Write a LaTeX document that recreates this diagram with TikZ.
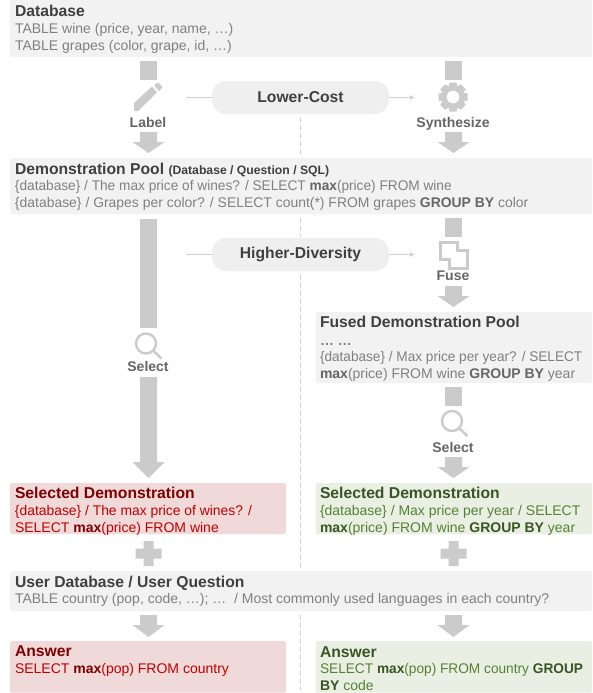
\documentclass[tikz,border=0pt]{standalone}
\usetikzlibrary{arrows.meta}
\usepackage{graphicx}
\usepackage{fontspec}
\setmainfont{Liberation Sans}
\definecolor{arrowgray}{HTML}{CBCBCB}
\definecolor{boxgray}{HTML}{F2F2F2}
\definecolor{pillgray}{HTML}{EFEFEF}
\definecolor{linegray}{HTML}{D0D0D0}
\definecolor{bodygray}{HTML}{808080}
\definecolor{headgray}{HTML}{404040}
\definecolor{labelgray}{HTML}{666666}
\definecolor{redbox}{HTML}{F0D9D9}
\definecolor{redhead}{HTML}{7F0000}
\definecolor{redbody}{HTML}{C00000}
\definecolor{greenbox}{HTML}{E9EFE3}
\definecolor{greenhead}{HTML}{375623}
\definecolor{greenbody}{HTML}{548235}
\newcommand{\fitw}[2]{\resizebox{#1pt}{\height}{#2}}
\newcommand{\blockarrow}[4]{% x, top, neck, tip
  \fill[arrowgray] (#1-8.5,#2) -- (#1+8.5,#2) -- (#1+8.5,#3) -- (#1+16,#3) -- (#1,#4) -- (#1-16,#3) -- (#1-8.5,#3) -- cycle;}
\newcommand{\shaftbar}[3]{\fill[arrowgray] (#1-8.5,#2) rectangle (#1+8.5,#3);}
\newcommand{\plusmark}[2]{\fill[arrowgray] (#1-5,#2-12.5) -- (#1+5,#2-12.5) -- (#1+5,#2-5) -- (#1+13,#2-5) -- (#1+13,#2+5) -- (#1+5,#2+5) -- (#1+5,#2+12.5) -- (#1-5,#2+12.5) -- (#1-5,#2+5) -- (#1-13,#2+5) -- (#1-13,#2-5) -- (#1-5,#2-5) -- cycle;}
\newcommand{\lensmark}[2]{\draw[arrowgray,line width=2.4pt] (#1,#2) circle (10); \draw[arrowgray,line width=2.4pt] (#1+7,#2+7) -- (#1+15.5,#2+15);}
\tikzset{
  x=1pt,y=-1pt,
  panel/.style={rounded corners=1.5pt,fill=#1},
  txt/.style={anchor=base west,inner sep=0pt,outer sep=0pt,font=\fontsize{14}{16}\selectfont,text=#1},
  ttl/.style={anchor=base west,inner sep=0pt,outer sep=0pt,font=\fontsize{15.7}{18}\selectfont\bfseries,text=#1},
  lab/.style={anchor=base,inner sep=0pt,font=\fontsize{14}{16}\selectfont\bfseries,text=labelgray},
  pill/.style={rounded corners=14pt,fill=pillgray,minimum width=177pt,minimum height=33pt,inner sep=0pt,font=\fontsize{15.7}{18}\selectfont\bfseries,text=headgray},
  thin line/.style={linegray,line width=0.8pt},
  divider/.style={linegray,line width=0.8pt,dash pattern=on 5pt off 3pt},
}
\begin{document}
\begin{tikzpicture}
\useasboundingbox (0,0) rectangle (592,693);
\fill[white] (0,0) rectangle (592,693);
% divider
\coordinate (d1) at (300.7,117); \coordinate (d2) at (300.7,157);
\coordinate (d3) at (300.7,218); \coordinate (d4) at (300.7,237);
\coordinate (d5) at (300.7,275); \coordinate (d6) at (300.7,570);
\coordinate (d7) at (300.7,615); \coordinate (d8) at (300.7,690);
\draw[divider] (d1)--(d2); \draw[divider] (d3)--(d4); \draw[divider] (d5)--(d6); \draw[divider] (d7)--(d8);
% panels
\fill[panel=boxgray] (10,0) rectangle (592,57);
\fill[panel=boxgray] (10,158) rectangle (592,214);
\fill[panel=boxgray] (315.5,312) rectangle (592,383);
\fill[panel=redbox] (10,483) rectangle (286,534);
\fill[panel=greenbox] (315.5,483) rectangle (592,534);
\fill[panel=boxgray] (10,571) rectangle (592,611);
\fill[panel=redbox] (10,641) rectangle (286,692.5);
\fill[panel=greenbox] (315.5,641) rectangle (592,692.5);
% texts
\node[ttl=headgray] (t1) at (15,16.5) {Database};
\node[txt=bodygray] (t2) at (15,34) {TABLE wine (price, year, name, …)};
\node[txt=bodygray] (t3) at (15,51) {TABLE grapes (color, grape, id, …)};
\node[ttl=headgray] (t4) at (15,174.5) {Demonstration Pool {\fontsize{12.2}{14}\selectfont (Database / Question / SQL)}};
\node[txt=bodygray] (t5) at (15,190) {\fitw{436.7}{\{database\} / The max price of wines? / SELECT \textbf{\color{labelgray}max}(price) FROM wine}};
\node[txt=bodygray] (t6) at (15,207) {\fitw{513.3}{\{database\} / Grapes per color? / SELECT count(*) FROM grapes \textbf{\color{labelgray}GROUP BY} color}};
\node[ttl=headgray] (t7) at (320,327.5) {Fused Demonstration Pool};
\node[txt=bodygray,font=\fontsize{14}{16}\selectfont\bfseries] (t8) at (320,345) {… …};
\node[txt=bodygray] (t9) at (320,361) {\fitw{262.3}{\{database\} / Max price per year? / SELECT}};
\node[txt=bodygray] (t10) at (320,378) {\textbf{\color{labelgray}max}(price) FROM wine \textbf{\color{labelgray}GROUP BY} year};
\node[ttl=redhead] (t11) at (15,498.5) {Selected Demonstration};
\node[txt=redbody] (t12) at (15,515) {\fitw{237}{\{database\} / The max price of wines? /}};
\node[txt=redbody] (t13) at (15,532) {SELECT \textbf{\color{redhead}max}(price) FROM wine};
\node[ttl=greenhead] (t14) at (320,498.5) {Selected Demonstration};
\node[txt=greenbody] (t15) at (320,515) {\fitw{260.4}{\{database\} / Max price per year / SELECT}};
\node[txt=greenbody] (t16) at (320,532) {\textbf{\color{greenhead}max}(price) FROM wine \textbf{\color{greenhead}GROUP BY} year};
\node[ttl=headgray] (t17) at (15,587.5) {User Database / User Question};
\node[txt=bodygray] (t18) at (15,603) {TABLE country (pop, code, …); …\hspace{3.9pt} / Most commonly used languages in each country?};
\node[ttl=redhead] (t19) at (15,656.5) {Answer};
\node[txt=redbody] (t20) at (15,673) {SELECT \textbf{\color{redhead}max}(pop) FROM country};
\node[ttl=greenhead] (t21) at (320,657.5) {Answer};
\node[txt=greenbody] (t22) at (320,673) {\fitw{263}{SELECT \textbf{\color{greenhead}max}(pop) FROM country \textbf{\color{greenhead}GROUP}}};
\node[txt=greenbody] (t23) at (320,690) {\textbf{\color{greenhead}BY} code};
% left column arrows
\shaftbar{148.5}{61}{80}
\blockarrow{148.5}{132}{142}{153}
\shaftbar{148.5}{219}{328}
\blockarrow{148.5}{377}{462}{478}
% right column arrows
\shaftbar{453.5}{61}{80}
\blockarrow{453.5}{132}{142}{153}
\shaftbar{453.5}{218}{237}
\blockarrow{453.5}{286}{296}{307}
\shaftbar{453.5}{387}{406}
\blockarrow{453.5}{457}{467}{478}
\plusmark{148.5}{553.5}
\plusmark{453.5}{553.5}
\blockarrow{148.5}{615}{625}{637}
\blockarrow{453.5}{615}{625}{637}
% pills
\node[pill] (lc) at (300.5,97.5) {\raisebox{-1pt}{Lower-Cost}};
\node[pill] (hd) at (300.5,254.5) {\raisebox{-1.5pt}{Higher-Diversity}};
\coordinate (lc0) at (186,97.5); \coordinate (lc1) at (415,97.5);
\coordinate (hd0) at (186,254.5); \coordinate (hd1) at (415,254.5);
\draw[thin line] (lc0) -- (lc.west);
\draw[thin line,-{Latex[length=5pt,width=5pt]}] (lc.east) -- (lc1);
\draw[thin line] (hd0) -- (hd.west);
\draw[thin line,-{Latex[length=5pt,width=5pt]}] (hd.east) -- (hd1);
% labels
\node[lab] (l1) at (148,127) {Label};
\node[lab] (l2) at (453,127) {Synthesize};
\node[lab] (l3) at (453,280) {Fuse};
\node[lab] (l4) at (148,371) {Select};
\node[lab] (l5) at (453,452) {Select};
% icons
\lensmark{146}{343.5}
\lensmark{452}{421}
% pencil
\fill[arrowgray] (134,111) -- (134,103) -- (152,86.5) -- (157,92.5) -- (138,111) -- cycle;
\fill[arrowgray,rounded corners=1pt] (154,85) -- (158,82.5) -- (162.5,87) -- (159,91.5) -- cycle;
% gear
\draw[arrowgray,line width=5pt] (453,97) circle (9);
\foreach \a in {0,45,...,315}
  \fill[arrowgray,rotate around={\a:(453,97)}] (449.5,82.5) -- (456.5,82.5) -- (457.5,88) -- (448.5,88) -- cycle;
% fuse
\draw[arrowgray,line width=3pt] (440,242) -- (457,242) -- (457,250) -- (467,250) -- (467,268) -- (449,268) -- (449,259) -- (440,259) -- cycle;
\end{tikzpicture}
\end{document}
